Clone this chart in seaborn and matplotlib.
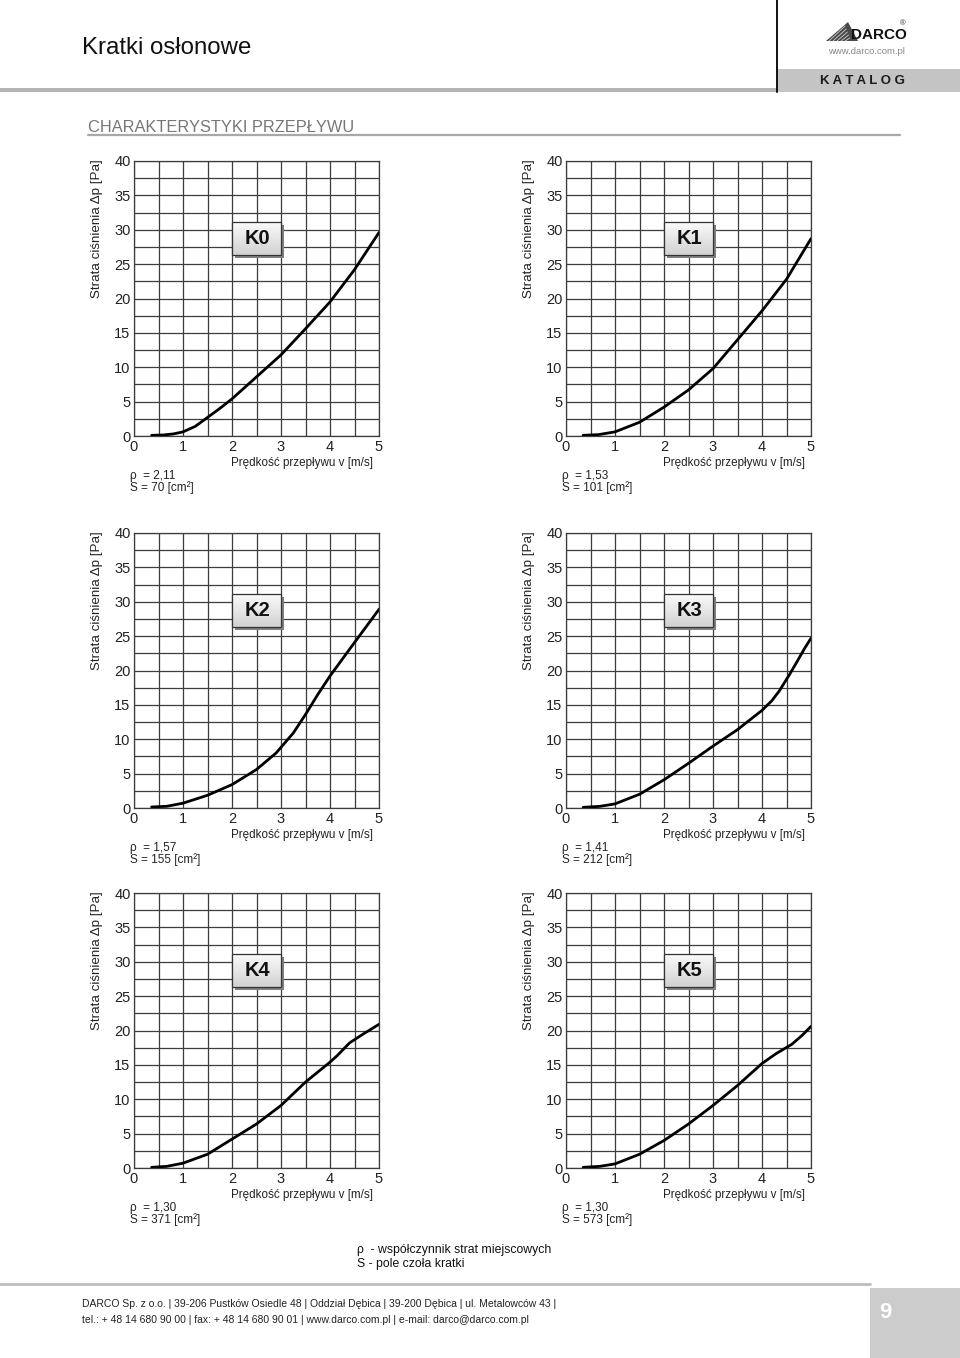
import numpy as np
import pandas as pd
import matplotlib
matplotlib.use("Agg")
import matplotlib.pyplot as plt
from matplotlib import font_manager
from matplotlib.patches import Rectangle, Polygon
import seaborn as sns

# ---------------- Settings ----------------
sns.set_theme(style="white")
plt.rcParams['font.family'] = ['Liberation Sans', 'DejaVu Sans']

# condensed face for header / footer if one is installed
installed = {f.name for f in font_manager.fontManager.ttflist}
if 'Liberation Sans Narrow' in installed:
    NARROW, narrow_scale = ['Liberation Sans Narrow', 'DejaVu Sans'], 1.0
else:
    NARROW, narrow_scale = ['Liberation Sans', 'DejaVu Sans'], 0.88

W, H = 960, 1358

# ---------------- Data ----------------
names = ["K0", "K1", "K2", "K3", "K4", "K5"]
rho_vals = ["2,11", "1,53", "1,57", "1,41", "1,30", "1,30"]
area_vals = ["70", "101", "155", "212", "371", "573"]

k0_v = [0.36, 0.6, 0.8, 1.0, 1.25, 1.5, 1.75, 2.0, 2.5, 3.0, 3.5, 4.0, 4.5, 5.0]
k0_dp = [0.1, 0.15, 0.3, 0.6, 1.4, 2.7, 4.0, 5.4, 8.6, 11.8, 15.6, 19.5, 24.2, 29.6]

k1_v = [0.35, 0.66, 1.0, 1.5, 2.0, 2.5, 3.0, 3.5, 4.0, 4.5, 5.0]
k1_dp = [0.1, 0.2, 0.6, 2.0, 4.2, 6.7, 9.8, 14.0, 18.2, 22.8, 28.7]

k2_v = [0.36, 0.67, 1.0, 1.5, 2.0, 2.5, 2.9, 3.25, 3.5, 3.75, 4.0, 4.4, 5.0]
k2_dp = [0.15, 0.25, 0.7, 1.85, 3.4, 5.6, 8.0, 10.9, 13.6, 16.5, 19.2, 23.1, 28.9]

k3_v = [0.35, 0.69, 1.0, 1.5, 2.0, 2.5, 3.0, 3.5, 4.0, 4.2, 4.35, 4.56, 4.7, 4.86, 5.0]
k3_dp = [0.1, 0.24, 0.6, 2.0, 4.1, 6.5, 9.0, 11.4, 14.2, 15.6, 17.0, 19.4, 21.1, 23.1, 24.7]

k4_v = [0.36, 0.67, 1.0, 1.5, 2.0, 2.5, 3.0, 3.5, 4.0, 4.14, 4.4, 4.68, 5.0]
k4_dp = [0.1, 0.24, 0.7, 2.0, 4.2, 6.4, 9.1, 12.5, 15.4, 16.3, 18.2, 19.5, 20.9]

k5_v = [0.35, 0.69, 1.0, 1.5, 2.0, 2.5, 3.0, 3.5, 4.0, 4.28, 4.61, 4.82, 5.0]
k5_dp = [0.1, 0.24, 0.6, 2.0, 4.0, 6.4, 9.1, 12.0, 15.2, 16.6, 18.0, 19.3, 20.6]

curves = [(k0_v, k0_dp), (k1_v, k1_dp), (k2_v, k2_dp),
          (k3_v, k3_dp), (k4_v, k4_dp), (k5_v, k5_dp)]

x_ticks = [0, 1, 2, 3, 4, 5]
y_ticks = [0, 5, 10, 15, 20, 25, 30, 35, 40]

# panel frames in pixels: (left, top, width, height)
col_left = [134, 566]
row_top = [161, 533, 893]
PW, PH = 245, 275

fig = plt.figure(figsize=(W / 100, H / 100), dpi=100)

# ---------------- Page background (header / footer) ----------------
bg = fig.add_axes([0, 0, 1, 1], zorder=0)
bg.set_xlim(0, W)
bg.set_ylim(H, 0)
bg.axis("off")

bg.text(82, 48, "Kratki osłonowe", fontsize=18 * narrow_scale ** 0.3, family=NARROW,
        va="center", ha="left", color="#111")
bg.add_patch(Rectangle((0, 88), 777, 4, color="#b4b4b4", lw=0))
bg.add_patch(Rectangle((777, 69), 183, 23, color="#c4c4c4", lw=0))
bg.plot([777, 777], [0, 92], color="#111", lw=1.4)
bg.text(862, 81, "K A T A L O G", fontsize=9.5, ha="center", va="center",
        color="#1a1a1a", weight="bold")

# logo
bg.add_patch(Polygon([[826, 41], [848, 22], [858, 41]], closed=True,
                     color="#4a4a4a", lw=0))
for k in range(5):
    bg.plot([829 + k * 4, 845 + k * 1.2], [41, 26 + k * 3], color="#d0d0d0", lw=0.6)
bg.text(851, 35, "DARCO", fontsize=11, weight="bold", ha="left", va="center",
        color="#111")
bg.text(903, 24, "®", fontsize=5.5, ha="center", va="center", color="#333")
bg.text(866, 51, "www.darco.com.pl", fontsize=6.8, ha="center", va="center",
        color="#888")

bg.text(88, 128, "CHARAKTERYSTYKI PRZEPŁYWU", fontsize=11.8, ha="left",
        va="center", color="#777777")
bg.plot([88, 900], [135, 135], color="#a8a8a8", lw=1.6)

# legend note
bg.text(357, 1250, "ρ  - współczynnik strat miejscowych", fontsize=8.8,
        ha="left", va="center", color="#111")
bg.text(357, 1264, "S - pole czoła kratki", fontsize=8.8, ha="left",
        va="center", color="#111")

# footer
bg.plot([0, 870], [1284, 1284], color="#bdbdbd", lw=2)
bg.add_patch(Rectangle((870, 1288), 90, 70, color="#cccccc", lw=0))
bg.text(885, 1313, "9", fontsize=16, weight="bold", color="white",
        ha="center", va="center")
bg.text(82, 1304, "DARCO Sp. z o.o. | 39-206 Pustków Osiedle 48 | Oddział Dębica | "
        "39-200 Dębica | ul. Metalowców 43 |", fontsize=8.5 * narrow_scale,
        family=NARROW, ha="left", va="center", color="#222")
bg.text(82, 1320, "tel.: + 48 14 680 90 00 | fax: + 48 14 680 90 01 | "
        "www.darco.com.pl | e-mail: darco@darco.com.pl", fontsize=8.5 * narrow_scale,
        family=NARROW, ha="left", va="center", color="#222")

# ---------------- Charts ----------------
grad = np.linspace(0.98, 0.82, 64).reshape(-1, 1)

for i, name in enumerate(names):
    r, c = divmod(i, 2)
    left, top = col_left[c], row_top[r]
    ax = fig.add_axes([left / W, 1 - (top + PH) / H, PW / W, PH / H], zorder=2)
    ax.set_facecolor("white")

    v, dp = curves[i]
    df = pd.DataFrame({"v": v, "dp": dp})
    sns.lineplot(data=df, x="v", y="dp", ax=ax, color="black", lw=2.0,
                 zorder=5, sort=False)

    ax.set_xlim(0, 5)
    ax.set_ylim(0, 40)
    ax.set_xticks(x_ticks)
    ax.set_yticks(y_ticks)
    ax.set_xticks(np.arange(0.5, 5, 1.0), minor=True)
    ax.set_yticks(np.arange(2.5, 40, 5.0), minor=True)
    ax.grid(True, which="both", color="#3c3c3c", lw=0.9)
    ax.set_axisbelow(True)
    for sp in ax.spines.values():
        sp.set_color("#3c3c3c")
        sp.set_linewidth(0.9)
    ax.tick_params(axis="both", which="major", labelsize=10.5, colors="#222",
                   length=2, width=0.8)
    ax.tick_params(axis="x", which="major", pad=3, length=0)
    ax.tick_params(axis="y", which="major", pad=0.5)
    ax.tick_params(which="minor", length=0)
    ax.set_xlabel("")
    ax.set_ylabel("")

    # label box
    ax.add_patch(Rectangle((2.06, 25.9), 1.0, 4.8, color="#808080", lw=0, zorder=6))
    ax.imshow(grad, extent=[2.0, 3.0, 26.3, 31.1], aspect="auto", cmap="gray",
              vmin=0, vmax=1, zorder=7)
    ax.add_patch(Rectangle((2.0, 26.3), 1.0, 4.8, fill=False, ec="#333",
                           lw=0.9, zorder=8))
    ax.text(2.52, 28.7, name, fontsize=14.5, weight="bold", ha="center",
            va="center", color="#111", zorder=9)
    ax.set_xlim(0, 5)
    ax.set_ylim(0, 40)

    ax.text(0.976, -0.097, "Prędkość przepływu v [m/s]", transform=ax.transAxes,
            fontsize=8.4, ha="right", va="center", color="#222")
    ax.text(-0.15, 0.755, "Strata ciśnienia Δp [Pa]", transform=ax.transAxes,
            fontsize=9.6, rotation=90, ha="center", va="center", color="#222")
    ax.text(-0.016, -0.147, f"ρ  = {rho_vals[i]}", transform=ax.transAxes,
            fontsize=8.5, ha="left", va="center", color="#222")
    ax.text(-0.016, -0.188, f"S = {area_vals[i]} [cm²]", transform=ax.transAxes,
            fontsize=8.5, ha="left", va="center", color="#222")

plt.savefig("out.png", dpi=100)
